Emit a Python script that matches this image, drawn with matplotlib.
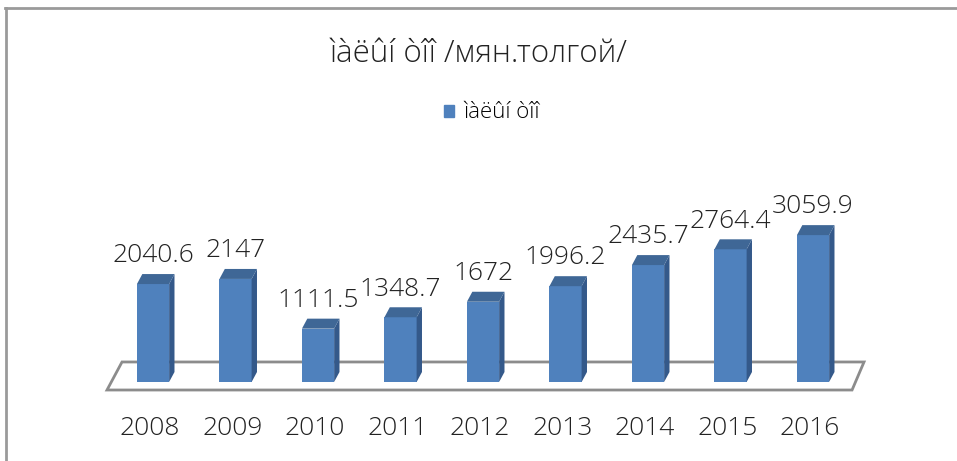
import matplotlib.pyplot as plt
from matplotlib.patches import Polygon
import numpy as np

plt.rcParams['font.family'] = ['Open Sans', 'DejaVu Sans']

years = ['2008', '2009', '2010', '2011', '2012', '2013', '2014', '2015', '2016']
values = [2040.6, 2147, 1111.5, 1348.7, 1672, 1996.2, 2435.7, 2764.4, 3059.9]
value_labels = ['2040.6', '2147', '1111.5', '1348.7', '1672', '1996.2', '2435.7', '2764.4', '3059.9']
series_name = 'ìàëûí òîî'
title = 'ìàëûí òîî /мян.толгой/'

front_col = '#4f81bd'
side_col = '#34598a'
top_col = '#3f6796'

fig = plt.figure(figsize=(9.57, 4.61), dpi=100)
ax = fig.add_axes([0, 0, 1, 1])
ax.set_xlim(-1.855, 9.745)
ax.set_ylim(-1646, 7958)
ax.axis('off')

# outer chart border
fig.add_artist(plt.Line2D([0.005, 1.0], [0.983, 0.983], color='#9a9a9a', lw=2, transform=fig.transFigure))
fig.add_artist(plt.Line2D([0.006, 0.006], [0.0, 0.983], color='#9a9a9a', lw=2, transform=fig.transFigure))

# floor
floor = Polygon([(-0.558, -167), (8.473, -167), (8.618, 417), (-0.376, 417)],
                closed=True, facecolor='white', edgecolor='#8c8c8c', lw=2, zorder=1)
ax.add_patch(floor)

x = np.arange(len(years))
w = 0.39
dx = 0.065
dy = 208
ax.bar(x, values, width=w, color=front_col, zorder=3)
for xi, v in zip(x, values):
    side = Polygon([(xi + w / 2, 0), (xi + w / 2 + dx, dy), (xi + w / 2 + dx, v + dy), (xi + w / 2, v)],
                   closed=True, facecolor=side_col, edgecolor='none', zorder=3)
    top = Polygon([(xi - w / 2, v), (xi + w / 2, v), (xi + w / 2 + dx, v + dy), (xi - w / 2 + dx, v + dy)],
                  closed=True, facecolor=top_col, edgecolor='none', zorder=3)
    ax.add_patch(side)
    ax.add_patch(top)

for xi, v, lab in zip(x, values, value_labels):
    ax.text(xi, v + dy + 120, lab, ha='center', va='bottom', fontsize=19,
            fontweight='light', color='#222222')

for xi, yr in zip(x, years):
    ax.text(xi - 0.04, -960, yr, ha='center', va='center', fontsize=19,
            fontweight='light', color='#222222')

fig.text(0.5, 0.882, title, ha='center', va='center', fontsize=22.5, fontweight='light', color='#222222')

ax.legend([plt.Rectangle((0, 0), 1, 1, color=front_col)], [series_name],
          loc='center', bbox_to_anchor=(0.514, 0.755), frameon=False,
          handlelength=0.45, handleheight=0.45, handletextpad=0.45,
          prop={'size': 16, 'weight': 'light'})

fig.savefig('out.png', dpi=100)
